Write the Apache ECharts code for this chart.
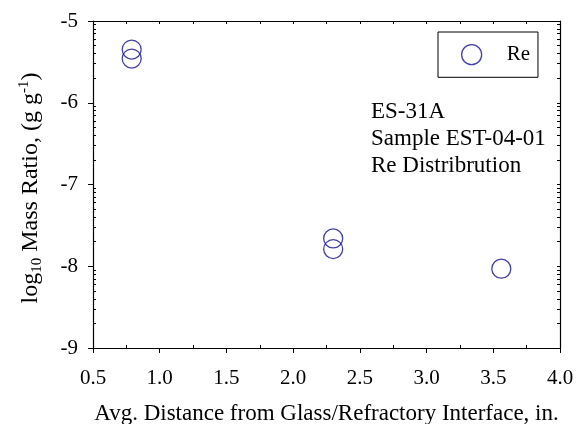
<!DOCTYPE html>
<html lang="en">
  <head>
    <meta charset="utf-8">
    <title>Re Distribution</title>
    <script src="https://cdn.jsdelivr.net/npm/echarts@6/dist/echarts.min.js"></script>
    <style>
      html, body { margin: 0; padding: 0; background: #fff; }
      #chart { width: 578px; height: 424px; }
    </style>
  </head>
  <body>
    <div id="chart"></div>
    <script type="text/javascript">
    // data
    const distance = [0.79, 0.79, 2.30, 2.30, 3.56];
    const logMassRatio = [-5.35, -5.46, -7.66, -7.79, -8.03];

    const xTicks = [0.5, 1.0, 1.5, 2.0, 2.5, 3.0, 3.5, 4.0];
    const xMinorTicks = [0.75, 1.25, 1.75, 2.25, 2.75, 3.25, 3.75];
    const yTicks = [-9, -8, -7, -6, -5];

    // log style minor ticks inside each decade
    const yMinorTicks = [];
    yTicks.slice(0, -1).forEach(function (d) {
      for (let k = 2; k <= 9; k++) yMinorTicks.push(d + Math.log10(k));
    });

    const font = 'Liberation Serif, Times New Roman, serif';
    const navy = '#12128f';

    const chart = echarts.init(document.getElementById('chart'), null, { renderer: 'canvas' });

    const baseX = { type: 'value', min: 0.5, max: 4.0, interval: 0.5, splitLine: { show: false } };
    const baseY = { type: 'value', min: -9, max: -5, interval: 1, splitLine: { show: false } };
    const line = { show: true, lineStyle: { color: '#000', width: 1.2 } };

    chart.setOption({
      animation: false,
      grid: { left: 93, right: 18, top: 21, bottom: 76, outerBoundsMode: 'none', containLabel: false },
      legend: {
        left: 438, top: 32,
        width: 100,
        padding: [12, 8, 12, 23],
        borderColor: '#000', borderWidth: 1,
        itemWidth: 20, itemHeight: 20,
        itemStyle: { borderWidth: 1.3 },
        textStyle: { fontFamily: font, fontSize: 21, color: '#000', padding: [0, 0, 0, 20] },
        data: ['Re']
      },
      xAxis: [
        Object.assign({}, baseX, {
          position: 'bottom',
          name: 'Avg. Distance from Glass/Refractory Interface, in.',
          nameLocation: 'middle', nameGap: 54,
          nameTextStyle: { fontFamily: font, fontSize: 23, color: '#000' },
          axisLine: line,
          axisTick: { show: true, inside: false, length: 5, customValues: xTicks, lineStyle: { color: '#000' } },
          axisLabel: {
            fontFamily: font, fontSize: 21, color: '#000', margin: 20,
            customValues: xTicks,
            formatter: function (v) { return v.toFixed(1); }
          }
        }),
        Object.assign({}, baseX, {
          position: 'bottom',
          axisLine: { show: false },
          axisTick: { show: true, inside: true, length: 3, customValues: xMinorTicks, lineStyle: { color: '#000' } },
          axisLabel: { show: false }
        }),
        Object.assign({}, baseX, {
          position: 'top',
          axisLine: line,
          axisTick: { show: true, inside: true, length: 3, customValues: xTicks.concat(xMinorTicks), lineStyle: { color: '#000' } },
          axisLabel: { show: false }
        })
      ],
      yAxis: [
        Object.assign({}, baseY, {
          position: 'left',
          name: '{n|log}{sub|10}{n| Mass Ratio, (g g}{sup|-1}{n|)}',
          nameLocation: 'middle', nameGap: 48, nameRotate: 90,
          nameTextStyle: {
            fontFamily: font, fontSize: 24, color: '#000',
            padding: [0, 7, 0, 0],
            rich: {
              n: { fontFamily: font, fontSize: 24, lineHeight: 28, color: '#000' },
              sub: { fontFamily: font, fontSize: 15, lineHeight: 10, verticalAlign: 'bottom', color: '#000' },
              sup: { fontFamily: font, fontSize: 15, lineHeight: 14, verticalAlign: 'top', color: '#000' }
            }
          },
          axisLine: line,
          axisTick: { show: true, inside: false, length: 5, customValues: yTicks, lineStyle: { color: '#000' } },
          axisLabel: { fontFamily: font, fontSize: 21, color: '#000', margin: 15, customValues: yTicks }
        }),
        Object.assign({}, baseY, {
          position: 'left',
          axisLine: { show: false },
          axisTick: { show: true, inside: true, length: 3, customValues: yMinorTicks, lineStyle: { color: '#000' } },
          axisLabel: { show: false }
        }),
        Object.assign({}, baseY, {
          position: 'right',
          axisLine: line,
          axisTick: { show: true, inside: true, length: 3, customValues: yTicks.concat(yMinorTicks), lineStyle: { color: '#000' } },
          axisLabel: { show: false }
        })
      ],
      graphic: [{
        type: 'text',
        left: 371, top: 98,
        style: {
          text: 'ES-31A\nSample EST-04-01\nRe Distribrution',
          fontFamily: font, fontSize: 23, lineHeight: 27, fill: '#000'
        }
      }],
      series: [{
        name: 'Re',
        type: 'scatter',
        xAxisIndex: 0, yAxisIndex: 0,
        symbol: 'circle',
        symbolSize: 19,
        itemStyle: { color: 'rgba(0,0,0,0)', borderColor: navy, borderWidth: 1.3 },
        data: distance.map(function (x, i) { return [x, logMassRatio[i]]; })
      }]
    });
    </script>
  </body>
</html>
